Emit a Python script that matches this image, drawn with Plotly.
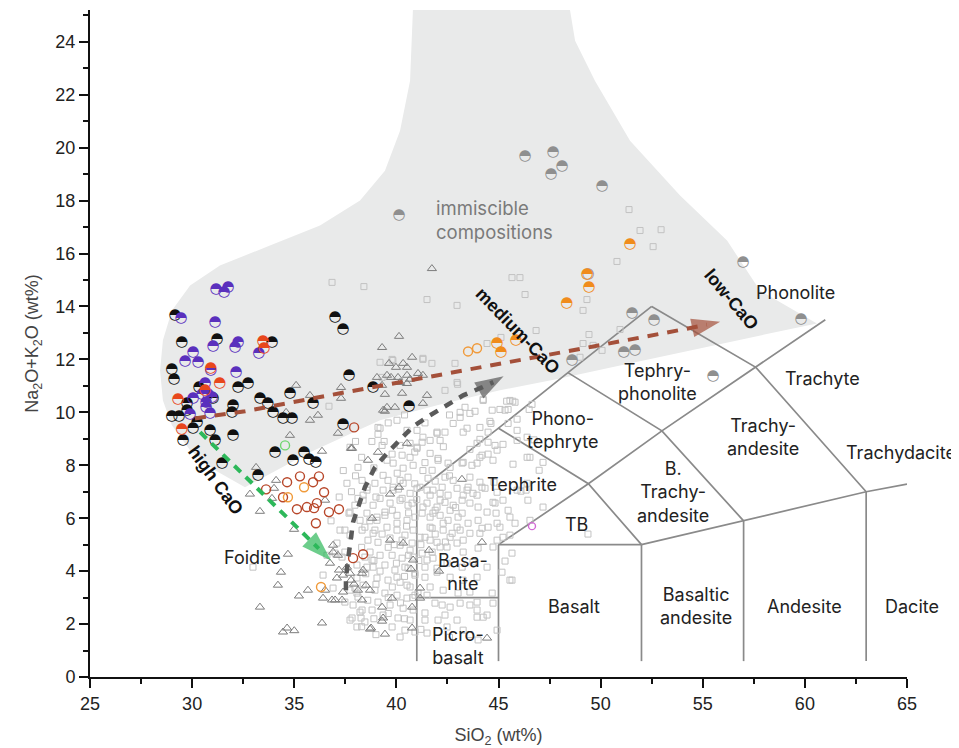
import plotly.graph_objects as go

# ---------------- TAS field boundaries (SiO2, Na2O+K2O) ----------------
tas_lines = [
    [(41, 0.6), (41, 7)],
    [(41, 7), (45, 9.4), (48.4, 11.5), (52.5, 14)],
    [(41, 3), (45, 3)],
    [(45, 0.6), (45, 5)],
    [(45, 5), (49.4, 7.3), (53, 9.3), (57.6, 11.7), (61, 13.5)],
    [(45, 5), (52, 5)],
    [(52, 5), (57, 5.9), (63, 7), (65, 7.29)],
    [(52, 0.6), (52, 5)],
    [(57, 0.6), (57, 5.9)],
    [(63, 0.6), (63, 7)],
    [(45, 9.4), (49.4, 7.3), (52, 5)],
    [(48.4, 11.5), (53, 9.3), (57, 5.9)],
    [(52.5, 14), (57.6, 11.7), (63, 7)],
]

# immiscible field outline
immiscible_x = [40.81, 40.67, 40.18, 39.44, 38.22, 36.26, 33.81, 31.36, 29.90, 29.01, 28.57, 28.43,
                28.57, 29.01, 29.90, 31.12, 32.59, 35.77, 39.20, 42.14, 45.07, 48.01, 50.95, 53.89,
                56.82, 60.59, 57.80, 56.19, 53.89, 51.44, 49.72, 48.75, 48.50]
immiscible_y = [25.2, 22.53, 20.64, 19.13, 18.0, 17.06, 16.30, 15.55, 14.79, 13.85, 12.72, 11.58,
                10.45, 9.51, 8.57, 7.81, 7.17, 8.49, 9.70, 10.30, 10.83, 11.28, 11.77, 12.26,
                12.72, 13.36, 14.6, 16.49, 18.19, 20.26, 22.53, 24.04, 25.2]

# ---------------- samples ----------------
squares_xy = [
    (51.39, 17.66), (51.93, 16.87), (52.96, 16.9), (52.57, 16.26), (50.80, 15.70), (45.66, 15.09),
    (46.05, 15.09), (46.30, 14.45), (41.50, 14.26), (42.97, 14.04), (49.33, 14.26), (49.14, 13.85),
    (46.84, 13.09), (49.43, 12.94), (50.95, 13.13), (44.44, 12.60), (49.14, 12.60), (49.63, 12.53),
    (50.07, 12.34), (48.99, 12.08), (41.30, 12.0), (41.74, 11.85), (42.87, 11.85), (39.83, 11.96),
    (36.85, 14.91), (38.41, 14.75), (45.12, 12.83), (36.70, 10.23), (39.20, 11.89), (39.30, 11.32),
    (39.79, 12.0), (41.30, 12.04), (39.10, 9.43), (40.03, 9.70), (41.01, 9.32), (41.26, 8.87),
    (39.10, 9.17),
    (43.0, 11.06), (44.25, 10.49), (45.4, 10.42), (45.7, 10.42), (45.07, 10.11), (45.47, 10.11),
    (46.5, 10.11), (43.12, 10.0), (43.6, 9.96), (44.58, 9.66), (44.09, 9.43), (44.49, 9.25),
    (42.38, 9.25), (41.99, 9.25), (42.14, 8.94), (41.65, 8.94), (41.30, 9.06), (43.27, 9.25),
    (45.91, 9.32), (46.40, 9.06), (44.83, 8.75), (44.93, 8.57), (44.09, 8.30), (44.73, 8.19),
    (43.95, 8.08), (41.01, 8.64), (40.18, 8.75), (40.67, 8.83), (39.79, 8.42), (40.28, 8.38),
    (42.04, 8.26), (42.53, 8.08), (43.22, 8.08), (43.70, 8.0), (41.75, 7.81), (40.82, 8.0),
    (39.84, 8.08), (40.33, 7.89), (39.35, 7.62), (40.04, 7.70), (40.57, 7.55), (41.55, 7.51),
    (42.38, 7.55), (42.78, 7.43), (43.60, 7.55), (44.09, 7.36), (42.24, 7.17), (42.97, 7.13),
    (43.46, 7.06), (44.19, 7.17), (41.79, 7.06), (42.53, 6.87), (43.27, 6.87), (46.40, 8.30),
    (46.35, 7.06),
    (38.57, 7.17), (38.95, 7.32), (39.35, 7.06), (39.84, 7.17), (40.33, 7.32), (40.67, 6.94),
    (41.01, 7.13), (41.50, 7.06), (41.9, 7.4), (42.14, 6.94), (43.51, 7.17), (43.95, 6.87),
    (44.34, 7.13), (44.93, 6.98), (44.73, 6.60), (45.47, 6.30), (44.88, 6.19), (44.44, 6.23),
    (44.0, 6.42), (43.6, 6.57), (43.22, 6.68), (42.78, 6.49), (42.38, 6.60), (41.99, 6.42),
    (41.5, 6.57), (41.26, 6.19), (41.65, 6.04), (42.14, 6.11), (42.53, 5.92), (43.02, 6.04),
    (43.51, 5.81), (44.0, 5.92), (44.49, 5.66), (44.93, 5.17), (44.93, 5.81), (44.09, 5.43),
    (43.6, 5.43), (43.12, 5.55), (42.73, 5.43), (42.29, 5.55), (41.75, 5.62), (41.40, 5.28),
    (41.99, 5.09), (42.48, 4.91), (42.97, 5.06), (43.27, 4.72), (41.75, 4.72), (41.5, 4.42),
    (41.99, 4.11), (41.4, 3.77), (41.65, 3.40), (41.5, 3.09), (41.89, 2.79), (42.24, 2.72),
    (42.63, 2.64), (43.12, 2.79), (43.6, 2.72), (43.95, 2.53), (44.44, 2.34), (44.73, 2.79),
    (44.93, 1.77), (42.97, 2.15), (42.48, 1.89), (43.27, 1.77), (43.95, 2.26), (42.04, 2.15),
    (41.4, 2.15), (41.5, 1.66), (45.56, 3.66),
    (38.37, 6.68), (38.86, 6.49), (39.2, 6.75), (39.69, 6.57), (40.18, 6.68), (40.57, 6.49),
    (38.56, 6.19), (39.05, 6.04), (39.44, 6.23), (40.03, 6.11), (40.52, 5.92), (40.91, 6.04),
    (38.46, 5.66), (38.95, 5.55), (39.54, 5.66), (40.03, 5.55), (40.42, 5.36), (40.82, 5.55),
    (38.61, 5.17), (39.10, 5.09), (39.69, 5.25), (40.18, 4.98), (40.77, 5.06), (38.71, 4.72),
    (39.2, 4.60), (39.79, 4.60), (40.28, 4.49), (40.82, 4.53), (38.86, 4.15), (39.44, 4.23),
    (39.93, 4.04), (40.57, 4.11), (40.91, 3.85), (39.05, 3.74), (39.59, 3.66), (40.18, 3.58),
    (40.67, 3.40), (38.95, 3.28), (39.44, 3.17), (40.03, 3.09), (40.52, 2.98), (40.91, 3.09),
    (39.10, 2.83), (39.69, 2.72), (40.33, 2.60), (40.82, 2.53), (39.35, 2.34), (40.08, 2.23),
    (40.67, 2.15), (39.79, 1.89), (40.42, 1.77), (40.91, 1.70), (40.18, 1.51),
    (39.2, 9.40), (37.58, 7.32), (38.32, 7.43), (38.56, 7.06), (38.12, 6.75), (37.73, 6.23),
    (38.22, 5.92), (37.48, 5.55), (38.86, 5.43), (37.09, 5.06), (37.48, 4.72), (38.07, 4.23),
    (38.81, 4.42), (37.97, 3.36), (38.12, 3.02), (38.32, 2.53), (37.83, 2.23), (38.81, 2.53),
    (38.46, 2.08), (41.4, 2.42), (42.38, 2.34), (44.25, 2.26), (44.69, 3.17), (45.17, 3.96),
    (45.07, 5.66), (45.66, 4.68), (45.22, 5.28), (45.56, 5.36), (46.54, 5.92), (47.18, 6.42),
    (46.44, 6.68), (45.81, 5.81), (43.75, 6.94), (45.91, 7.06), (46.40, 7.32), (45.22, 6.68),
    (47.18, 8.11), (46.54, 8.30), (45.91, 8.94), (45.47, 9.58), (45.32, 10.08), (45.81, 10.38),
    (44.69, 10.08), (43.12, 9.81), (42.78, 9.58), (43.46, 9.40), (44.49, 8.87), (43.95, 8.83),
    (44.19, 8.38), (43.27, 8.11), (42.63, 7.92), (42.04, 8.19), (41.65, 8.45), (41.99, 9.21),
    (40.52, 9.32), (41.01, 8.68), (40.67, 8.30), (39.54, 8.19), (39.30, 8.75), (39.59, 7.43),
    (40.18, 7.43), (41.16, 7.17), (41.65, 6.87), (42.14, 6.68), (42.63, 6.30), (43.22, 6.19),
    (41.79, 6.19), (41.30, 6.42), (40.77, 6.57), (40.28, 6.75), (39.84, 7.06), (41.65, 5.66),
    (42.29, 5.81), (42.97, 5.66), (44.19, 5.62), (44.73, 4.91), (44.0, 4.87), (43.27, 5.17),
    (42.63, 5.28), (42.14, 4.91), (41.65, 5.17), (41.16, 5.28), (40.03, 5.81), (39.44, 6.11),
    (39.05, 5.92), (40.28, 5.17), (40.67, 4.79), (41.26, 4.68), (41.79, 4.49), (42.48, 4.30),
    (43.22, 4.15), (43.75, 4.34), (44.44, 4.15), (43.95, 3.77), (43.27, 3.66), (42.63, 3.77),
    (41.99, 3.96), (41.40, 4.15), (40.91, 3.92), (40.42, 4.15), (40.03, 3.77), (40.52, 3.47),
    (41.06, 3.17), (42.29, 3.28), (43.02, 3.17), (43.60, 3.21), (43.95, 2.83),
    (37.73, 5.36), (38.32, 5.55), (37.24, 5.55), (38.37, 3.47), (38.07, 3.74), (37.73, 3.28),
    (37.48, 2.83), (37.88, 2.72), (38.22, 2.45), (38.07, 3.17), (36.41, 3.85), (36.90, 3.36),
    (32.98, 4.15), (38.46, 4.53), (38.56, 4.15), (37.34, 4.53), (37.73, 2.15), (38.27, 2.23),
    (38.07, 1.89), (37.0, 4.68), (37.68, 6.19), (38.37, 6.87), (37.97, 6.49), (38.12, 7.92),
    (37.73, 8.68),
    (42.38, 10.83), (42.97, 11.13), (44.25, 10.45), (45.56, 10.45), (46.64, 10.30), (43.36, 10.19),
    (43.85, 10.04), (44.63, 9.58), (45.91, 9.74), (44.09, 8.98), (45.22, 8.79), (46.74, 8.96),
    (44.49, 8.42), (45.71, 8.04), (46.99, 7.81), (44.78, 7.36), (46.10, 7.02), (44.83, 6.57),
    (45.56, 6.04), (45.32, 4.38), (45.66, 3.66), (49.38, 5.40),
    (38.3, 8.3), (38.8, 8.9), (39.6, 9.6), (40.4, 9.9), (41.4, 9.6), (42.6, 9.9), (38.0, 7.6),
    (38.9, 7.9), (39.4, 8.9), (40.9, 8.5), (41.4, 8.1), (42.3, 8.7), (43.6, 8.6), (40.1, 7.1),
    (40.9, 7.3), (41.3, 7.8), (42.6, 7.6), (39.0, 6.8), (39.8, 6.3), (40.6, 6.2), (41.0, 6.7),
    (41.9, 6.3), (42.9, 6.4), (38.7, 5.9), (39.3, 5.4), (39.9, 5.0), (40.5, 5.7), (41.2, 5.0),
    (41.9, 5.4), (42.4, 5.1), (38.3, 4.9), (38.9, 4.4), (39.6, 4.9), (40.0, 4.3), (40.6, 4.6),
    (41.1, 4.4), (38.5, 3.9), (39.2, 4.0), (39.8, 3.4), (40.4, 3.8), (40.8, 3.0), (39.0, 3.5),
    (38.6, 2.9), (39.6, 3.0), (40.2, 2.8), (38.9, 2.2), (39.6, 2.4), (40.4, 2.2), (38.3, 1.9),
    (39.0, 1.6), (41.2, 1.8), (42.6, 1.5), (43.6, 1.6), (44.0, 1.4), (37.2, 6.8), (36.8, 5.9),
    (36.6, 4.6), (37.8, 7.0), (38.0, 8.9), (37.4, 7.8),
]

triangles_xy = [
    (34.79, 9.13), (33.13, 7.92), (34.11, 7.43), (32.83, 6.91), (34.01, 7.13), (33.91, 6.75),
    (33.32, 6.26), (34.99, 5.58), (36.51, 6.68), (36.36, 8.53), (37.78, 8.64), (37.14, 9.21),
    (35.77, 9.70), (36.90, 4.98), (36.90, 4.72), (36.75, 4.30), (34.69, 4.64), (34.35, 3.96),
    (34.20, 3.47), (35.67, 3.28), (35.23, 3.06), (33.32, 2.64), (36.41, 2.98), (37.34, 2.91),
    (37.09, 3.74), (37.39, 3.85), (37.73, 3.92), (37.58, 4.15), (38.37, 4.04), (36.51, 3.28),
    (36.85, 2.91), (37.93, 3.51), (38.12, 3.28), (38.32, 2.91),
    (40.13, 12.87), (39.30, 12.45), (40.77, 12.08), (39.64, 11.85), (39.98, 11.70), (40.33, 11.85),
    (40.52, 11.70), (39.05, 11.32), (39.54, 11.40), (39.74, 11.32), (40.08, 11.32), (40.52, 11.40),
    (40.67, 11.25), (41.06, 11.47), (41.30, 11.40), (40.18, 11.13), (40.52, 11.09), (39.30, 11.02),
    (35.09, 11.02), (35.77, 10.64), (36.16, 9.89), (37.29, 10.94), (37.29, 10.53), (39.44, 10.68),
    (40.28, 10.72), (41.50, 10.64), (39.54, 10.19), (39.93, 10.19), (39.44, 10.04), (41.30, 10.34),
    (40.52, 8.83), (37.83, 8.64), (41.74, 15.43), (34.60, 10.0),
    (39.35, 10.08), (38.61, 8.19), (39.10, 8.49), (40.13, 7.17), (39.69, 6.91), (38.81, 6.0),
    (39.69, 5.17), (40.33, 5.06), (40.82, 4.42), (38.32, 3.92), (37.19, 4.04), (37.78, 3.66),
    (38.51, 3.47), (38.71, 3.28), (37.39, 3.21), (37.0, 2.91), (39.30, 2.64), (39.79, 2.98),
    (41.16, 2.98), (40.77, 2.64), (39.35, 2.23), (39.30, 2.11), (38.76, 1.85), (40.77, 1.85),
    (43.21, 7.47), (44.19, 5.09), (42.09, 4.0), (44.44, 1.47), (41.60, 4.79), (40.72, 4.08),
    (41.16, 3.36), (37.14, 4.60),
    (34.65, 1.85), (34.45, 1.70), (35.0, 1.75), (36.36, 2.04), (38.71, 1.81), (39.44, 1.62),
]

open_brown_xy = [
    (33.62, 7.09), (34.65, 7.36), (35.28, 7.58), (35.92, 7.36), (36.21, 7.58), (36.46, 6.98),
    (34.45, 6.79), (35.13, 6.34), (35.62, 6.42), (35.97, 6.38), (36.11, 6.57), (36.70, 6.23),
    (37.19, 6.34), (36.06, 5.81), (37.88, 4.49), (38.37, 4.64), (37.93, 9.43),
]
open_orange_xy = [(35.48, 7.17), (34.69, 6.79), (36.31, 3.40), (43.51, 12.30), (43.95, 12.42)]
open_green_xy = [(34.55, 8.75)]
open_magenta_xy = [(46.64, 5.70)]

half_black_xy = [
    (29.16, 13.66), (29.50, 12.64), (31.22, 12.75), (33.91, 12.64), (29.01, 11.62), (29.11, 11.25),
    (30.34, 10.94), (31.02, 10.53), (29.75, 10.34), (29.75, 10.08), (29.01, 9.85), (29.36, 9.85),
    (30.24, 9.62), (30.04, 9.40), (30.88, 9.32), (29.55, 8.94), (31.12, 8.94), (32.00, 9.13),
    (31.46, 8.08), (32.25, 10.94), (32.74, 11.09), (33.32, 10.53), (33.71, 10.34), (32.00, 10.26),
    (31.95, 10.0), (33.96, 10.0), (34.45, 9.77), (34.89, 9.77), (34.79, 10.72), (35.92, 10.34),
    (37.00, 13.58), (37.39, 13.13), (37.68, 11.40), (38.86, 10.94), (40.62, 10.23), (37.39, 9.55),
    (33.23, 7.62), (34.06, 8.49), (34.94, 8.19), (35.48, 8.49), (35.72, 8.23), (36.06, 8.11),
]
half_purple_xy = [
    (31.17, 14.64), (31.56, 14.53), (31.76, 14.72), (29.46, 13.55), (31.12, 13.40), (32.25, 12.64),
    (32.10, 12.45), (31.02, 12.49), (30.04, 12.26), (29.65, 11.92), (30.29, 11.89), (33.27, 12.23),
    (30.92, 11.58), (32.15, 11.51), (30.63, 11.09), (30.04, 10.53), (30.48, 10.68), (30.78, 10.68),
    (30.68, 10.38), (30.68, 10.19), (30.88, 9.96), (29.90, 9.92), (30.97, 10.57),
]
half_red_xy = [
    (33.47, 12.68), (33.52, 12.42), (30.92, 11.66), (31.36, 11.09), (29.31, 10.49), (30.63, 10.83),
    (29.50, 9.36),
]
half_gray_xy = [
    (46.30, 19.66), (47.67, 19.81), (48.11, 19.28), (47.57, 18.98), (50.07, 18.53), (40.13, 17.43),
    (49.38, 15.21), (56.97, 15.66), (59.81, 13.51), (51.54, 13.74), (52.61, 13.47), (51.14, 12.26),
    (51.68, 12.34), (55.50, 11.36), (48.60, 11.96),
]
half_orange_xy = [
    (51.44, 16.34), (49.33, 15.21), (49.43, 14.72), (48.35, 14.11), (44.93, 12.60), (45.12, 12.26),
    (45.86, 12.72),
]

# trend arrows (last point = arrowhead)
high_cao_x = [30.39, 36.2, 36.8]
high_cao_y = [9.25, 4.85, 4.40]
medium_cao_x = [37.53, 37.53, 37.63, 37.88, 38.46, 38.95, 39.54, 40.18, 40.82, 41.65, 42.48, 43.27, 44.19, 44.75, 45.25]
medium_cao_y = [3.28, 3.74, 4.42, 5.85, 7.17, 7.92, 8.45, 8.98, 9.47, 9.89, 10.30, 10.64, 10.94, 11.14, 11.36]
low_cao_x = [30.14, 32.59, 37.24, 41.01, 44.73, 49.38, 54.03, 55.20, 55.85]
low_cao_y = [9.77, 10.04, 10.72, 11.25, 11.77, 12.45, 13.13, 13.31, 13.42]

field_labels = [
    ("Phonolite", 59.52, 14.53), ("Tephry-<br>phonolite", 52.76, 11.13), ("Trachyte", 60.84, 11.28),
    ("Phono-<br>tephryte", 48.16, 9.32), ("Trachy-<br>andesite", 57.95, 9.06),
    ("Trachydacite", 64.70, 8.49), ("B.<br>Trachy-<br>andesite", 53.54, 6.98),
    ("Tephrite", 46.15, 7.28), ("TB", 48.84, 5.77), ("Basa-<br>nite", 43.26, 3.96),
    ("Picro-<br>basalt", 43.02, 1.17), ("Basalt", 48.70, 2.68), ("Basaltic<br>andesite", 54.67, 2.68),
    ("Andesite", 60.0, 2.68), ("Foidite", 32.98, 4.53),
]
edge_labels = [("Dacite", 65.0, 2.68)]
trend_labels = [("high CaO", 31.15, 7.45, 54), ("medium-CaO", 45.96, 13.09, 46), ("low-CaO", 56.43, 14.26, 50)]

# ---------------- figure ----------------
fig = go.Figure()

fig.add_trace(go.Scatter(x=immiscible_x, y=immiscible_y, fill="toself", fillcolor="#e9eaea",
                         line=dict(width=0), mode="lines", hoverinfo="skip"))

lx, ly = [], []
for seg in tas_lines:
    for px, py in seg:
        lx.append(px); ly.append(py)
    lx.append(None); ly.append(None)
fig.add_trace(go.Scatter(x=lx, y=ly, mode="lines", line=dict(color="#8a8a8a", width=1.7)))

def pts(xy):
    return [p[0] for p in xy], [p[1] for p in xy]

sx, sy = pts(squares_xy)
fig.add_trace(go.Scatter(x=sx, y=sy, mode="markers",
                         marker=dict(symbol="square-open", size=6, color="#c2c2c2", line=dict(width=1))))
tx, ty = pts(triangles_xy)
fig.add_trace(go.Scatter(x=tx, y=ty, mode="markers",
                         marker=dict(symbol="triangle-up-open", size=8, color="#7c7c7c", line=dict(width=1))))

for xy, col, sz in [(open_brown_xy, "#b8472a", 9), (open_orange_xy, "#f09a3a", 9),
                    (open_green_xy, "#6fd66f", 9), (open_magenta_xy, "#d36ad6", 7)]:
    ox, oy = pts(xy)
    fig.add_trace(go.Scatter(x=ox, y=oy, mode="markers",
                             marker=dict(symbol="circle-open", size=sz, color=col, line=dict(width=1.4))))

for xy, col in [(half_gray_xy, "#8f8f8f"), (half_black_xy, "#111111"), (half_purple_xy, "#5a30bd"),
                (half_red_xy, "#e8471c"), (half_orange_xy, "#f08c1c")]:
    hx, hy = pts(xy)
    fig.add_trace(go.Scatter(x=hx, y=hy, mode="text", text=["\u25d3"] * len(hx),
                             textposition="middle center",
                             textfont=dict(family="DejaVu Sans", size=15, color=col)))

for ax_, ay_, col, dash, w, asz in [
    (high_cao_x, high_cao_y, "#2db85a", "9px,7px", 4, 32),
    (medium_cao_x, medium_cao_y, "#5a5a5a", "9px,8px", 4.5, 30),
    (low_cao_x, low_cao_y, "#a4503a", "11px,9px", 4, 30),
]:
    sizes = [0] * (len(ax_) - 1) + [asz]
    fig.add_trace(go.Scatter(x=ax_[:-1], y=ay_[:-1], mode="lines", line=dict(color=col, width=w, dash=dash)))
    fig.add_trace(go.Scatter(x=ax_, y=ay_, mode="markers",
                             marker=dict(symbol="arrow", size=sizes, color=col, angleref="previous",
                                         line=dict(width=0))))

for txt, x, y in field_labels:
    fig.add_annotation(x=x, y=y, text=txt, showarrow=False,
                       font=dict(family="Inter", size=18, color="#222222"))
for txt, x, y in edge_labels:
    fig.add_annotation(x=x, y=y, text=txt, showarrow=False, xanchor="left", xshift=-24,
                       font=dict(family="Inter", size=18, color="#222222"))
fig.add_annotation(x=44.78, y=17.25, text="immiscible<br>compositions", showarrow=False, align="left",
                   font=dict(family="Inter", size=18.5, color="#7a7a7a"))
for txt, x, y, ang in trend_labels:
    fig.add_annotation(x=x, y=y, text="<b>" + txt + "</b>", showarrow=False, textangle=ang,
                       font=dict(family="Liberation Sans", size=18, color="#111111"))

# the page adds an 8 px body margin, so the figure is sized and offset to compensate
fig.update_layout(
    width=951, height=740, showlegend=False,
    margin=dict(l=82, r=52, t=2, b=71),
    paper_bgcolor="white", plot_bgcolor="white",
    xaxis=dict(range=[25, 65], dtick=5, tick0=25, ticks="outside", ticklen=9, tickwidth=2,
               tickcolor="#111", showline=True, linecolor="#111", linewidth=2, showgrid=False,
               zeroline=False, tickfont=dict(family="Liberation Sans", size=18, color="#222"),
               minor=dict(dtick=2.5, tick0=25, ticks="outside", ticklen=5, tickwidth=2, tickcolor="#111"),
               title=dict(text="SiO<sub>2</sub> (wt%)", standoff=16,
                          font=dict(family="Liberation Sans", size=18, color="#444"))),
    yaxis=dict(range=[0, 25.2], dtick=2, tick0=0, ticks="outside", ticklen=9, tickwidth=2,
               tickcolor="#111", showline=True, linecolor="#111", linewidth=2, showgrid=False,
               zeroline=False, tickfont=dict(family="Liberation Sans", size=18, color="#222"),
               minor=dict(dtick=1, tick0=0, ticks="outside", ticklen=5, tickwidth=2, tickcolor="#111"),
               title=dict(text="Na<sub>2</sub>O+K<sub>2</sub>O (wt%)", standoff=12,
                          font=dict(family="Liberation Sans", size=18, color="#444"))),
)

fig.write_html("out.html")
